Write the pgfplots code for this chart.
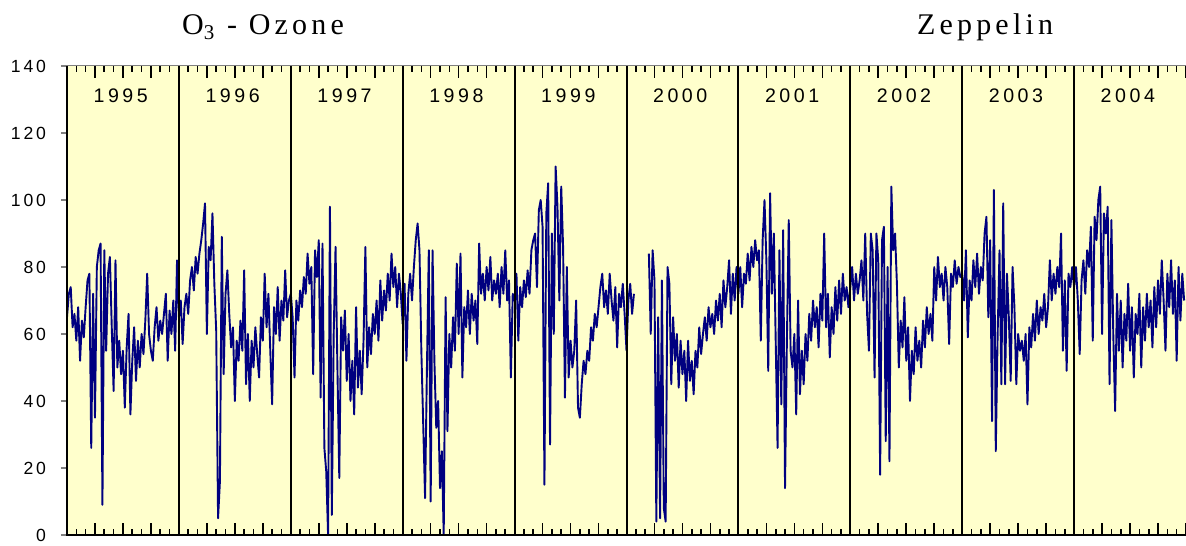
\documentclass[border=0pt]{standalone}
\usepackage{fontspec}
\setmainfont{Liberation Serif}
\newfontfamily\titlefont{Liberation Serif}[LetterSpace=14]
\newfontfamily\yearfont{Liberation Sans}[LetterSpace=18]
\newfontfamily\tickfont{Liberation Sans}[LetterSpace=16]
\usepackage{pgfplots}
\pgfplotsset{compat=1.18}
\definecolor{bgyellow}{RGB}{255,255,204}
\definecolor{navyline}{RGB}{0,0,128}
\begin{document}
\begin{tikzpicture}
\path[use as bounding box] (-33.5pt,-5pt) rectangle (559.5pt,267.5pt);
\begin{axis}[
  scale only axis, width=559.5pt, height=234.5pt,
  xmin=0, xmax=10, ymin=0, ymax=140,
  clip mode=individual,
  axis background/.style={fill=bgyellow},
  axis line style={draw=gray, line width=0.5pt},
  xtick distance=0.25,
  minor x tick num=2,
  xticklabels={},
  xtick align=inside,
  xtick pos=both,
  major tick length=6pt, minor tick length=3pt,
  every x tick/.style={black, line width=0.8pt},
  ytick={0,20,...,140},
  minor ytick={0,20,...,140},
  ytick pos=left,
  ytick align=outside,
  major y tick style={draw=none},
  minor y tick style={gray, line width=0.6pt},
  tick label style={font=\tickfont\fontsize{8.8}{10}\selectfont},
  yticklabel style={xshift=-1pt},
  /pgf/number format/assume math mode=true,
  unbounded coords=jump,
]
\addplot[navyline, line width=0.95pt, line join=round, mark=none] table[row sep=\\, x expr=\coordindex/60, y=y] {
y\\
65\\72\\74\\62\\66\\58\\68\\52\\64\\59\\68\\76\\78\\26\\72\\35\\80\\85\\87\\9\\85\\55\\78\\83\\62\\43\\82\\50\\58\\48\\55\\38\\56\\66\\36\\52\\62\\46\\58\\50\\60\\54\\64\\78\\60\\55\\52\\62\\68\\58\\64\\60\\66\\72\\52\\67\\60\\70\\55\\82\\
65\\70\\57\\68\\72\\66\\76\\80\\73\\83\\78\\84\\88\\93\\99\\60\\86\\82\\96\\75\\61\\5\\16\\89\\48\\72\\79\\66\\56\\62\\40\\58\\52\\64\\55\\79\\45\\60\\40\\58\\50\\62\\54\\47\\65\\58\\78\\62\\72\\55\\39\\68\\60\\74\\58\\70\\64\\79\\65\\70\\
72\\65\\47\\70\\64\\73\\68\\77\\72\\84\\75\\80\\48\\85\\77\\88\\41\\87\\26\\19\\0\\98\\6\\60\\86\\50\\17\\65\\55\\67\\46\\60\\40\\52\\36\\68\\44\\55\\42\\58\\86\\50\\62\\54\\66\\60\\70\\58\\76\\64\\73\\67\\78\\70\\84\\74\\80\\68\\78\\72\\
63\\75\\52\\72\\78\\70\\80\\88\\93\\85\\55\\33\\11\\50\\85\\10\\85\\52\\32\\40\\14\\25\\0\\71\\31\\60\\50\\65\\55\\81\\60\\84\\47\\68\\62\\73\\60\\72\\64\\70\\57\\87\\72\\78\\70\\80\\73\\83\\70\\76\\72\\78\\68\\80\\72\\85\\70\\76\\47\\72\\
70\\78\\58\\74\\68\\76\\71\\79\\72\\85\\88\\90\\74\\97\\100\\92\\15\\96\\105\\27\\90\\60\\110\\98\\70\\104\\86\\41\\80\\47\\58\\50\\55\\70\\38\\35\\45\\52\\48\\55\\52\\62\\58\\66\\62\\68\\74\\78\\68\\73\\66\\78\\70\\64\\74\\56\\72\\68\\75\\66\\
55\\70\\75\\66\\72\\nan\\nan\\nan\\nan\\nan\\nan\\nan\\84\\60\\85\\76\\4\\65\\5\\76\\8\\4\\80\\75\\45\\65\\52\\60\\44\\58\\48\\55\\40\\58\\46\\52\\42\\55\\50\\62\\54\\60\\65\\58\\68\\62\\66\\60\\70\\64\\72\\62\\76\\68\\74\\82\\66\\78\\70\\80\\
72\\80\\68\\78\\75\\84\\76\\86\\80\\88\\82\\85\\58\\88\\100\\82\\49\\102\\72\\90\\58\\26\\85\\39\\91\\14\\58\\94\\55\\50\\60\\36\\70\\42\\55\\45\\60\\52\\66\\58\\70\\62\\68\\56\\72\\64\\90\\62\\72\\53\\68\\60\\74\\64\\76\\66\\78\\70\\74\\68\\
74\\80\\70\\78\\72\\76\\82\\70\\90\\66\\55\\90\\85\\47\\90\\82\\18\\88\\92\\28\\80\\22\\104\\85\\90\\75\\50\\64\\56\\71\\52\\62\\40\\55\\48\\62\\52\\58\\50\\64\\56\\68\\60\\66\\58\\80\\70\\83\\74\\78\\70\\80\\74\\57\\78\\74\\82\\75\\80\\77\\
78\\70\\85\\59\\76\\70\\82\\74\\84\\72\\80\\76\\90\\95\\65\\88\\34\\103\\25\\60\\85\\45\\99\\45\\78\\65\\46\\80\\68\\45\\60\\55\\58\\52\\60\\39\\62\\56\\66\\58\\70\\60\\68\\64\\72\\62\\68\\82\\70\\78\\72\\80\\74\\90\\55\\76\\49\\78\\74\\80\\
74\\80\\70\\54\\76\\82\\72\\85\\80\\92\\58\\95\\88\\100\\104\\60\\96\\90\\98\\45\\94\\60\\37\\72\\55\\70\\50\\66\\58\\75\\55\\68\\47\\66\\60\\72\\50\\68\\58\\72\\62\\70\\56\\74\\62\\76\\66\\82\\70\\55\\78\\68\\82\\66\\76\\52\\80\\64\\78\\70\\
};
\pgfplotsinvokeforeach{1,...,9}{
  \draw[black, line width=1pt] (axis cs:#1,0) -- (axis cs:#1,140);
}
\pgfplotsinvokeforeach{0,...,9}{
  \node[anchor=base, font=\yearfont\fontsize{9.8}{12}\selectfont] at (axis cs:#1+0.48,129) {\the\numexpr1995+#1\relax};
}
\draw[black, line width=1pt] (rel axis cs:0,1) -- (rel axis cs:0,0) -- (rel axis cs:1,0);
\node[anchor=base, font=\titlefont\fontsize{15}{18}\selectfont] at (axis cs:1.752,140) [yshift=15.5pt] {O\textsubscript{3} - Ozone};
\node[anchor=base, font=\titlefont\fontsize{15}{18}\selectfont] at (axis cs:8.204,140) [yshift=15.5pt] {Zeppelin};
\end{axis}
\end{tikzpicture}
\end{document}
